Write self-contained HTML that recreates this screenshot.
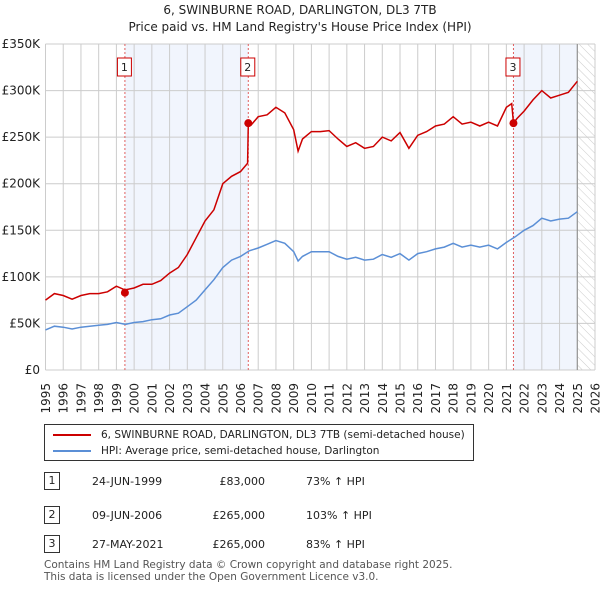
<!DOCTYPE html>
<html><head><meta charset="utf-8"><style>
body{margin:0;width:600px;height:590px;background:#fff;font-family:"DejaVu Sans","Liberation Sans",sans-serif;color:#222;position:relative;overflow:hidden}
.t{position:absolute;font-size:12px;white-space:nowrap}
</style></head><body>
<div class="t" style="left:0;width:600px;text-align:center;top:3px;font-size:12px">6, SWINBURNE ROAD, DARLINGTON, DL3 7TB</div>
<div class="t" style="left:0;width:600px;text-align:center;top:20px;font-size:12px">Price paid vs. HM Land Registry's House Price Index (HPI)</div>
<svg id="chart" width="600" height="420" style="position:absolute;left:0;top:0">
<defs><pattern id="hatch" width="6" height="6" patternUnits="userSpaceOnUse" patternTransform="rotate(-45)"><line x1="0" y1="0" x2="0" y2="6" stroke="#ccc" stroke-width="1"/></pattern></defs>
</svg>
<div style="position:absolute;left:44px;top:424px;width:430px;height:37px;border:1px solid #333;box-sizing:border-box">
<div style="position:absolute;left:8px;top:4px;font-size:10.5px;white-space:nowrap"><span style="display:inline-block;width:38px;border-top:2px solid #cc0000;vertical-align:middle;margin-right:10px"></span>6, SWINBURNE ROAD, DARLINGTON, DL3 7TB (semi-detached house)</div>
<div style="position:absolute;left:8px;top:20px;font-size:10.5px;white-space:nowrap"><span style="display:inline-block;width:38px;border-top:2px solid #5b8fd6;vertical-align:middle;margin-right:10px"></span>HPI: Average price, semi-detached house, Darlington</div>
</div>
<div id="tbl"></div>
<div class="t" style="left:44px;top:559px;font-size:10.5px;color:#555">Contains HM Land Registry data © Crown copyright and database right 2025.</div>
<div class="t" style="left:44px;top:571px;font-size:10.5px;color:#555">This data is licensed under the Open Government Licence v3.0.</div>
<script>
const hpiYears=[1995,1995.5,1996,1996.5,1997,1997.5,1998,1998.5,1999,1999.5,2000,2000.5,2001,2001.5,2002,2002.5,2003,2003.5,2004,2004.5,2005,2005.5,2006,2006.5,2007,2007.5,2008,2008.5,2009,2009.25,2009.5,2010,2010.5,2011,2011.5,2012,2012.5,2013,2013.5,2014,2014.5,2015,2015.5,2016,2016.5,2017,2017.5,2018,2018.5,2019,2019.5,2020,2020.5,2021,2021.5,2022,2022.5,2023,2023.5,2024,2024.5,2025];
const hpiValues=[43,47,46,44,46,47,48,49,51,49,51,52,54,55,59,61,68,75,86,97,110,118,122,128,131,135,139,136,127,117,122,127,127,127,122,119,121,118,119,124,121,125,118,125,127,130,132,136,132,134,132,134,130,137,143,150,155,163,160,162,163,170];
const redYears=[1995,1995.5,1996,1996.5,1997,1997.5,1998,1998.5,1999,1999.48,2000,2000.5,2001,2001.5,2002,2002.5,2003,2003.5,2004,2004.5,2005,2005.5,2006,2006.4,2006.44,2006.6,2007,2007.5,2008,2008.5,2009,2009.25,2009.5,2010,2010.5,2011,2011.5,2012,2012.5,2013,2013.5,2014,2014.5,2015,2015.5,2016,2016.5,2017,2017.5,2018,2018.5,2019,2019.5,2020,2020.5,2021,2021.3,2021.4,2021.6,2022,2022.5,2023,2023.5,2024,2024.5,2025];
const redValues=[75,82,80,76,80,82,82,84,90,86,88,92,92,96,104,110,124,142,160,172,200,208,213,222,265,263,272,274,282,276,258,235,248,256,256,257,248,240,244,238,240,250,246,255,238,252,256,262,264,272,264,266,262,266,262,282,286,265,270,278,290,300,292,295,298,310];
const saleLabels=["1","2","3"];
const saleYears=[1999.48,2006.44,2021.4];
const salePrices=[83,265,265];
const saleDates=["24-JUN-1999","09-JUN-2006","27-MAY-2021"];
const salePriceText=["£83,000","£265,000","£265,000"];
const saleHpiText=["73% ↑ HPI","103% ↑ HPI","83% ↑ HPI"];
const yTicks=[0,50,100,150,200,250,300,350];
const yTickLabels=["£0","£50K","£100K","£150K","£200K","£250K","£300K","£350K"];
const xTicks=[1995,1996,1997,1998,1999,2000,2001,2002,2003,2004,2005,2006,2007,2008,2009,2010,2011,2012,2013,2014,2015,2016,2017,2018,2019,2020,2021,2022,2023,2024,2025,2026];

const NS="http://www.w3.org/2000/svg";
const svg=document.getElementById('chart');
const X0=45.5,X1=595,Y0=370,Y1=44;
const xs=y=>X0+(y-1995)/(2026-1995)*(X1-X0);
const ys=v=>Y0-v/350*(Y0-Y1);
function mk(t,a){const e=document.createElementNS(NS,t);for(const k in a)e.setAttribute(k,a[k]);svg.appendChild(e);return e;}
let r=mk('rect',{x:xs(saleYears[0]),y:Y1,width:xs(saleYears[1])-xs(saleYears[0]),height:Y0-Y1,fill:'#eef3fc',opacity:0.8});


r=mk('rect',{x:xs(saleYears[2]),y:Y1,width:xs(2025)-xs(saleYears[2]),height:Y0-Y1,fill:'#eef3fc',opacity:0.8});


r=mk('rect',{x:xs(2025),y:Y1,width:xs(2026)-xs(2025),height:Y0-Y1,fill:'url(#hatch)'});


xTicks.forEach(t=>{const l=mk('line',{x1:xs(t),x2:xs(t),y1:Y1,y2:Y0,stroke:'#ccc'});


const tx=mk('text',{x:0,y:0,'font-size':12,'text-anchor':'end',fill:'#222',transform:'translate('+(xs(t)+4.5)+',383) rotate(-90)'});tx.textContent=t;

});
yTicks.forEach((t,i)=>{const l=mk('line',{x1:X0,x2:X1,y1:ys(t),y2:ys(t),stroke:'#ccc'});


const tx=mk('text',{x:40,y:ys(t)+4,'font-size':12,'text-anchor':'end',fill:'#222'});tx.textContent=yTickLabels[i];

});
let l=mk('line',{x1:xs(2025),x2:xs(2025),y1:Y1,y2:Y0,stroke:'#888'});


saleYears.forEach((y,i)=>{const d=mk('line',{x1:xs(y),x2:xs(y),y1:Y1,y2:Y0,stroke:'#e06060','stroke-dasharray':'2,2'});

});
const path=(xa,va)=>xa.map((y,i)=>(i?'L':'M')+xs(y).toFixed(1)+','+ys(va[i]).toFixed(1)).join('');
let p=mk('path',{d:path(hpiYears,hpiValues),fill:'none',stroke:'#5b8fd6','stroke-width':1.5});


p=mk('path',{d:path(redYears,redValues),fill:'none',stroke:'#cc0000','stroke-width':1.5});


saleYears.forEach((y,i)=>{const c=mk('circle',{cx:xs(y),cy:ys(salePrices[i]),r:4,fill:'#cc0000'});


const b=mk('rect',{x:xs(y)-7.5,y:58,width:14,height:18,fill:'#fff',stroke:'#cc0000'});


const t=mk('text',{x:xs(y)-0.5,y:71,'font-size':11,'text-anchor':'middle',fill:'#222'});t.textContent=saleLabels[i];

});
const tb=document.getElementById('tbl');
const rowsY=[481,515,544];
saleLabels.forEach((s,i)=>{const row=document.createElement('div');


row.style.cssText='position:absolute;left:0;top:'+(rowsY[i]-9)+'px;width:600px;height:20px;font-size:11px';
row.innerHTML='<div style="position:absolute;left:44px;top:0;width:16px;height:18px;border:1px solid #333;box-sizing:border-box;text-align:center;line-height:16px">'+s+'</div>'+
'<div style="position:absolute;left:92px;top:3px">'+saleDates[i]+'</div>'+
'<div style="position:absolute;right:335px;top:3px">'+salePriceText[i]+'</div>'+
'<div style="position:absolute;left:306px;top:3px">'+saleHpiText[i]+'</div>';
tb.appendChild(row);});
</script>
</body></html>
